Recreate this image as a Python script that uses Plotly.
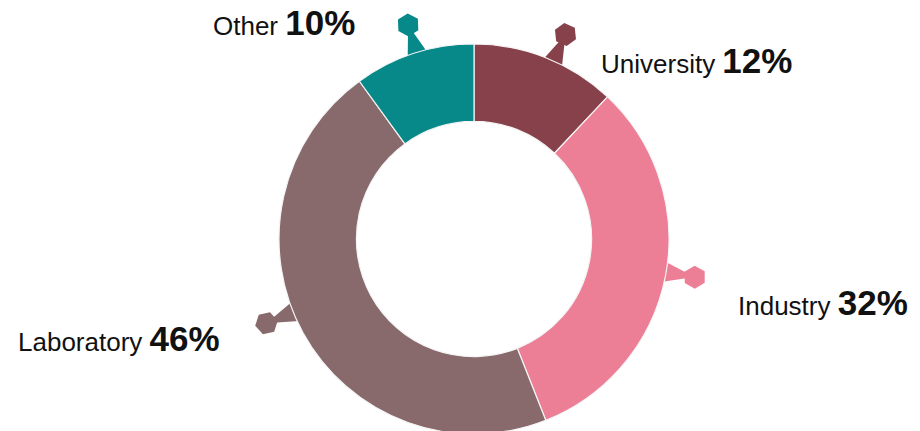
import math
import plotly.graph_objects as go

# ---- data ----
categories = ["University", "Industry", "Laboratory", "Other"]
shares = [12, 32, 46, 10]
colors = ["#87414A", "#EC7E96", "#88696C", "#07898A"]

# ---- layout constants (figure pixels, y downward) ----
W, H = 920, 431
CX, CY = 466.0, 231.0
R = 195.0
HOLE = 0.603
HEX_R = 224.0

# style tweaks for leader markers / labels
leader_nudge = [2.5, -1.0, 6.7, 0.9]          # degrees off slice middle
label_anchor = ["left", "left", "right", "right"]
label_dx = [34, 41, -44, -51]
label_dy = [40, 39, 29, 12]                    # baseline offset from marker
hex_turn = [30, 20, 10, 15]

total = float(sum(shares))

def pt(a_deg, r, s=0.0):
    a = math.radians(a_deg)
    ux, uy = math.sin(a), -math.cos(a)
    tx, ty = math.cos(a), math.sin(a)
    return CX + r * ux + s * tx, CY + r * uy + s * ty

fig = go.Figure()

dom_x = [(CX - R) / W, (CX + R) / W]
yc = H - CY
dom_y = [max(0.0, (yc - R) / H), min(1.0, (yc + R) / H)]

fig.add_trace(go.Pie(
    labels=categories, values=shares, sort=False, direction="clockwise",
    rotation=0, hole=HOLE, textinfo="none", hoverinfo="label+percent",
    marker=dict(colors=colors, line=dict(color="#F4F4F4", width=1.2)),
    domain=dict(x=dom_x, y=dom_y), showlegend=False,
))

shapes = []
hx, hy, hang = [], [], []
cum = 0.0
for i, v in enumerate(shares):
    mid = (cum + v / 2.0) / total * 360.0
    cum += v
    a = mid + leader_nudge[i]
    x, y = pt(a, HEX_R)
    hx.append(x); hy.append(y); hang.append(a + hex_turn[i])
    p1 = pt(a, HEX_R)
    p2 = pt(a, R - 2, -10)
    p3 = pt(a, R - 2, 10)
    path = "M {:.1f},{:.1f} L {:.1f},{:.1f} L {:.1f},{:.1f} Z".format(*p1, *p2, *p3)
    shapes.append(dict(type="path", path=path, xref="x", yref="y",
                       fillcolor=colors[i], line=dict(width=0), layer="below"))

fig.add_trace(go.Scatter(
    x=hx, y=hy, mode="markers", hoverinfo="skip", showlegend=False,
    marker=dict(symbol="hexagon", size=23, color=colors, angle=hang,
                line=dict(width=0)),
    cliponaxis=False,
))

annotations = []
for i, name in enumerate(categories):
    text = ("{} <b><span style=\"font-size:35px\">{}%</span></b>"
            .format(name, shares[i]))
    annotations.append(dict(
        x=hx[i] + label_dx[i], y=hy[i] + label_dy[i] - 14,
        xref="x", yref="y", text=text, showarrow=False,
        xanchor=label_anchor[i], yanchor="middle",
        font=dict(family="Liberation Sans, Arial, sans-serif", size=26, color="#111111"),
    ))

fig.update_layout(
    width=W, height=H, margin=dict(l=0, r=0, t=0, b=0),
    paper_bgcolor="white", plot_bgcolor="white",
    xaxis=dict(range=[0, W], visible=False, fixedrange=True),
    yaxis=dict(range=[H, 0], visible=False, fixedrange=True),
    shapes=shapes, annotations=annotations, showlegend=False,
)

fig.write_html("out.html")
